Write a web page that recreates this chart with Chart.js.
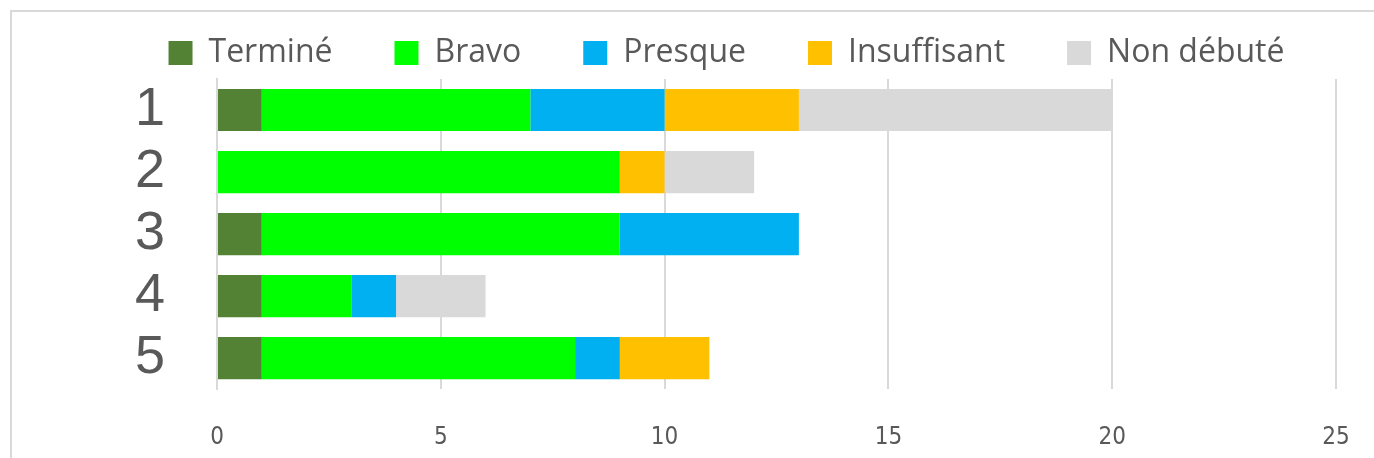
<!DOCTYPE html>
<html>
<head>
<meta charset="utf-8">
<script src="https://cdn.jsdelivr.net/npm/chart.js@4"></script>
<style>
  body { margin: 0; background: #fff; overflow: hidden; }
  #frame { position: absolute; left: 10px; top: 10px; width: 1400px; height: 500px; border: 2px solid #d9d9d9; }
  #chart { position: absolute; left: 0; top: 0; }
</style>
</head>
<body>
<div id="frame"></div>
<canvas id="chart" width="1374" height="458"></canvas>
<script>
const categories = ["1", "2", "3", "4", "5"];
const termine = [1, 0, 1, 1, 1];
const bravo = [6, 9, 8, 2, 7];
const presque = [3, 0, 4, 1, 1];
const insuffisant = [3, 1, 0, 0, 2];
const nonDebute = [7, 2, 0, 2, 0];
const xTicks = [0, 5, 10, 15, 20, 25];

const textColor = "#595959";

function ds(label, data, color) {
  return {
    label: label,
    data: data,
    backgroundColor: color,
    borderWidth: 0,
    barPercentage: 0.68,
    categoryPercentage: 1
  };
}

// x axis: tick padding counts twice in the axis height, so the bottom padding is negative
const chart = new Chart(document.getElementById("chart"), {
  type: "bar",
  data: {
    labels: categories,
    datasets: [
      ds("Terminé", termine, "#548235"),
      ds("Bravo", bravo, "#00ff00"),
      ds("Presque", presque, "#00b0f0"),
      ds("Insuffisant", insuffisant, "#ffc000"),
      ds("Non débuté", nonDebute, "#d9d9d9")
    ]
  },
  options: {
    indexAxis: "y",
    responsive: false,
    animation: false,
    layout: { padding: { left: 94, right: 15, top: -25, bottom: -28 } },
    plugins: {
      tooltip: { enabled: false },
      legend: {
        position: "top",
        labels: {
          color: textColor,
          font: { family: "Open Sans", size: 32 },
          boxWidth: 24,
          boxHeight: 24,
          padding: 62
        }
      }
    },
    scales: {
      x: {
        stacked: true,
        min: 0,
        max: 25,
        afterBuildTicks: axis => { axis.ticks = xTicks.map(v => ({ value: v })); },
        afterFit: scale => { scale.paddingLeft = 0; scale.paddingRight = 38; },
        grid: { color: "#d9d9d9", lineWidth: 2, drawTicks: false },
        border: { display: false },
        ticks: {
          color: textColor,
          font: { family: "DejaVu Sans Condensed, Roboto", size: 24 },
          padding: 34
        }
      },
      y: {
        stacked: true,
        grid: { display: false },
        border: { color: "#d9d9d9", width: 2 },
        afterFit: scale => { scale.width = 123; scale.paddingTop = 0; scale.paddingBottom = 0; },
        ticks: {
          autoSkip: false,
          color: textColor,
          font: { family: "Liberation Sans", size: 54 },
          padding: 44
        }
      }
    }
  }
});
</script>
</body>
</html>
